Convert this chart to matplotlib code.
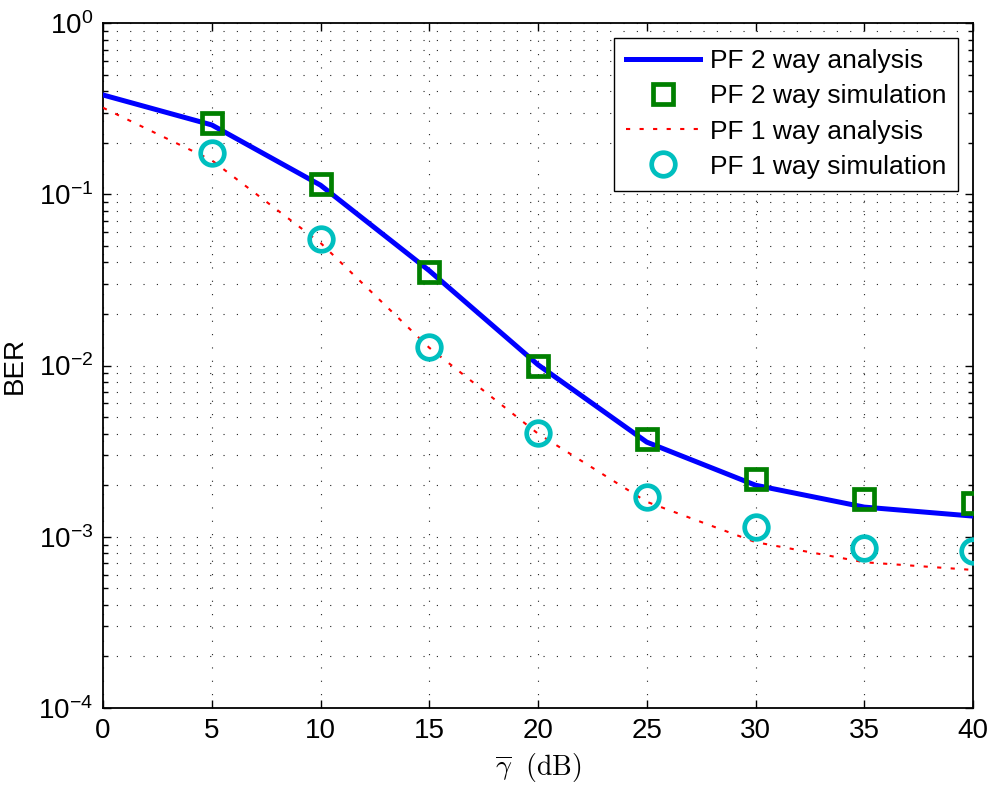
import matplotlib
matplotlib.use("Agg")
import matplotlib.pyplot as plt
from matplotlib.ticker import LogLocator, NullLocator, NullFormatter, FixedLocator

plt.rcParams['font.family'] = ['Liberation Sans', 'DejaVu Sans']
plt.rcParams['mathtext.fontset'] = 'custom'
plt.rcParams['mathtext.rm'] = 'Liberation Sans'
plt.rcParams['mathtext.it'] = 'Liberation Sans:italic'
plt.rcParams['mathtext.bf'] = 'Liberation Sans:bold'
plt.rcParams['mathtext.default'] = 'regular'

# Average SNR (dB)
snr = [0, 5, 10, 15, 20, 25, 30, 35, 40]
snr_sim = [5, 10, 15, 20, 25, 30, 35, 40]

# BER curves
pf2_analysis = [0.38, 0.254, 0.113, 0.0358, 0.0101, 0.00357, 0.0020, 0.00149, 0.00132]
pf2_simulation = [0.26, 0.115, 0.0353, 0.0100, 0.00372, 0.00216, 0.00166, 0.00157]
pf1_analysis = [0.32, 0.158, 0.052, 0.0127, 0.0040, 0.00160, 0.00093, 0.00071, 0.00064]
pf1_simulation = [0.173, 0.0546, 0.0128, 0.00402, 0.00170, 0.00114, 0.000863, 0.000826]

labels = ['PF 2 way analysis', 'PF 2 way simulation',
          'PF 1 way analysis', 'PF 1 way simulation']
x_ticks = [0, 5, 10, 15, 20, 25, 30, 35, 40]

fig = plt.figure(figsize=(9.92, 7.90), dpi=100)
ax = fig.add_axes([103 / 992, 1 - 708 / 790, 870 / 992, 685 / 790])

ax.semilogy(snr, pf2_analysis, '-', color='#0000FF', lw=3.6, label=labels[0], zorder=3)
ax.semilogy(snr_sim, pf2_simulation, 's', color='#008000', mfc='none', mec='#008000',
            ms=14, mew=3.4, label=labels[1], zorder=4)
ax.semilogy(snr, pf1_analysis, color='#FF0000', lw=1.5, linestyle=(0, (2.0, 4.5)),
            label=labels[2], zorder=3)
ax.semilogy(snr_sim, pf1_simulation, 'o', color='#00BFBF', mfc='none', mec='#00BFBF',
            ms=17, mew=3.4, label=labels[3], zorder=4)

ax.set_xlim(0, 40)
ax.set_ylim(1e-4, 1)
ax.xaxis.set_major_locator(FixedLocator(x_ticks))
ax.xaxis.set_minor_locator(NullLocator())
ax.yaxis.set_major_locator(LogLocator(base=10, numticks=10))
ax.yaxis.set_minor_locator(LogLocator(base=10, subs=range(2, 10), numticks=20))
ax.yaxis.set_minor_formatter(NullFormatter())

ax.grid(True, which='major', color='#222222', lw=0.8, linestyle=(0, (1, 11)))
ax.grid(True, which='minor', axis='y', color='#222222', lw=0.8, linestyle=(0, (1, 11)))
ax.set_axisbelow(True)

ax.tick_params(which='both', direction='in', top=True, right=True, width=1.0)
ax.tick_params(which='major', length=6, labelsize=20, pad=7)
ax.tick_params(which='minor', length=3.5)
for s in ax.spines.values():
    s.set_linewidth(1.3)

ax.set_ylabel('BER', fontsize=20)
ax.yaxis.set_label_coords(-0.086, 0.5)
ax.set_xlabel(r'$\overline{\mathit{\gamma}}\ \ \mathrm{(dB)}$', fontsize=20,
              math_fontfamily='cm', labelpad=5)

leg = ax.legend(loc='upper right', fontsize=19, numpoints=1, fancybox=False,
                framealpha=1, edgecolor='black', handlelength=2.8, handletextpad=0.4,
                labelspacing=0.42, borderpad=0.45, borderaxespad=0.55)
leg.get_frame().set_linewidth(1.0)

fig.savefig('out.png', dpi=100)
